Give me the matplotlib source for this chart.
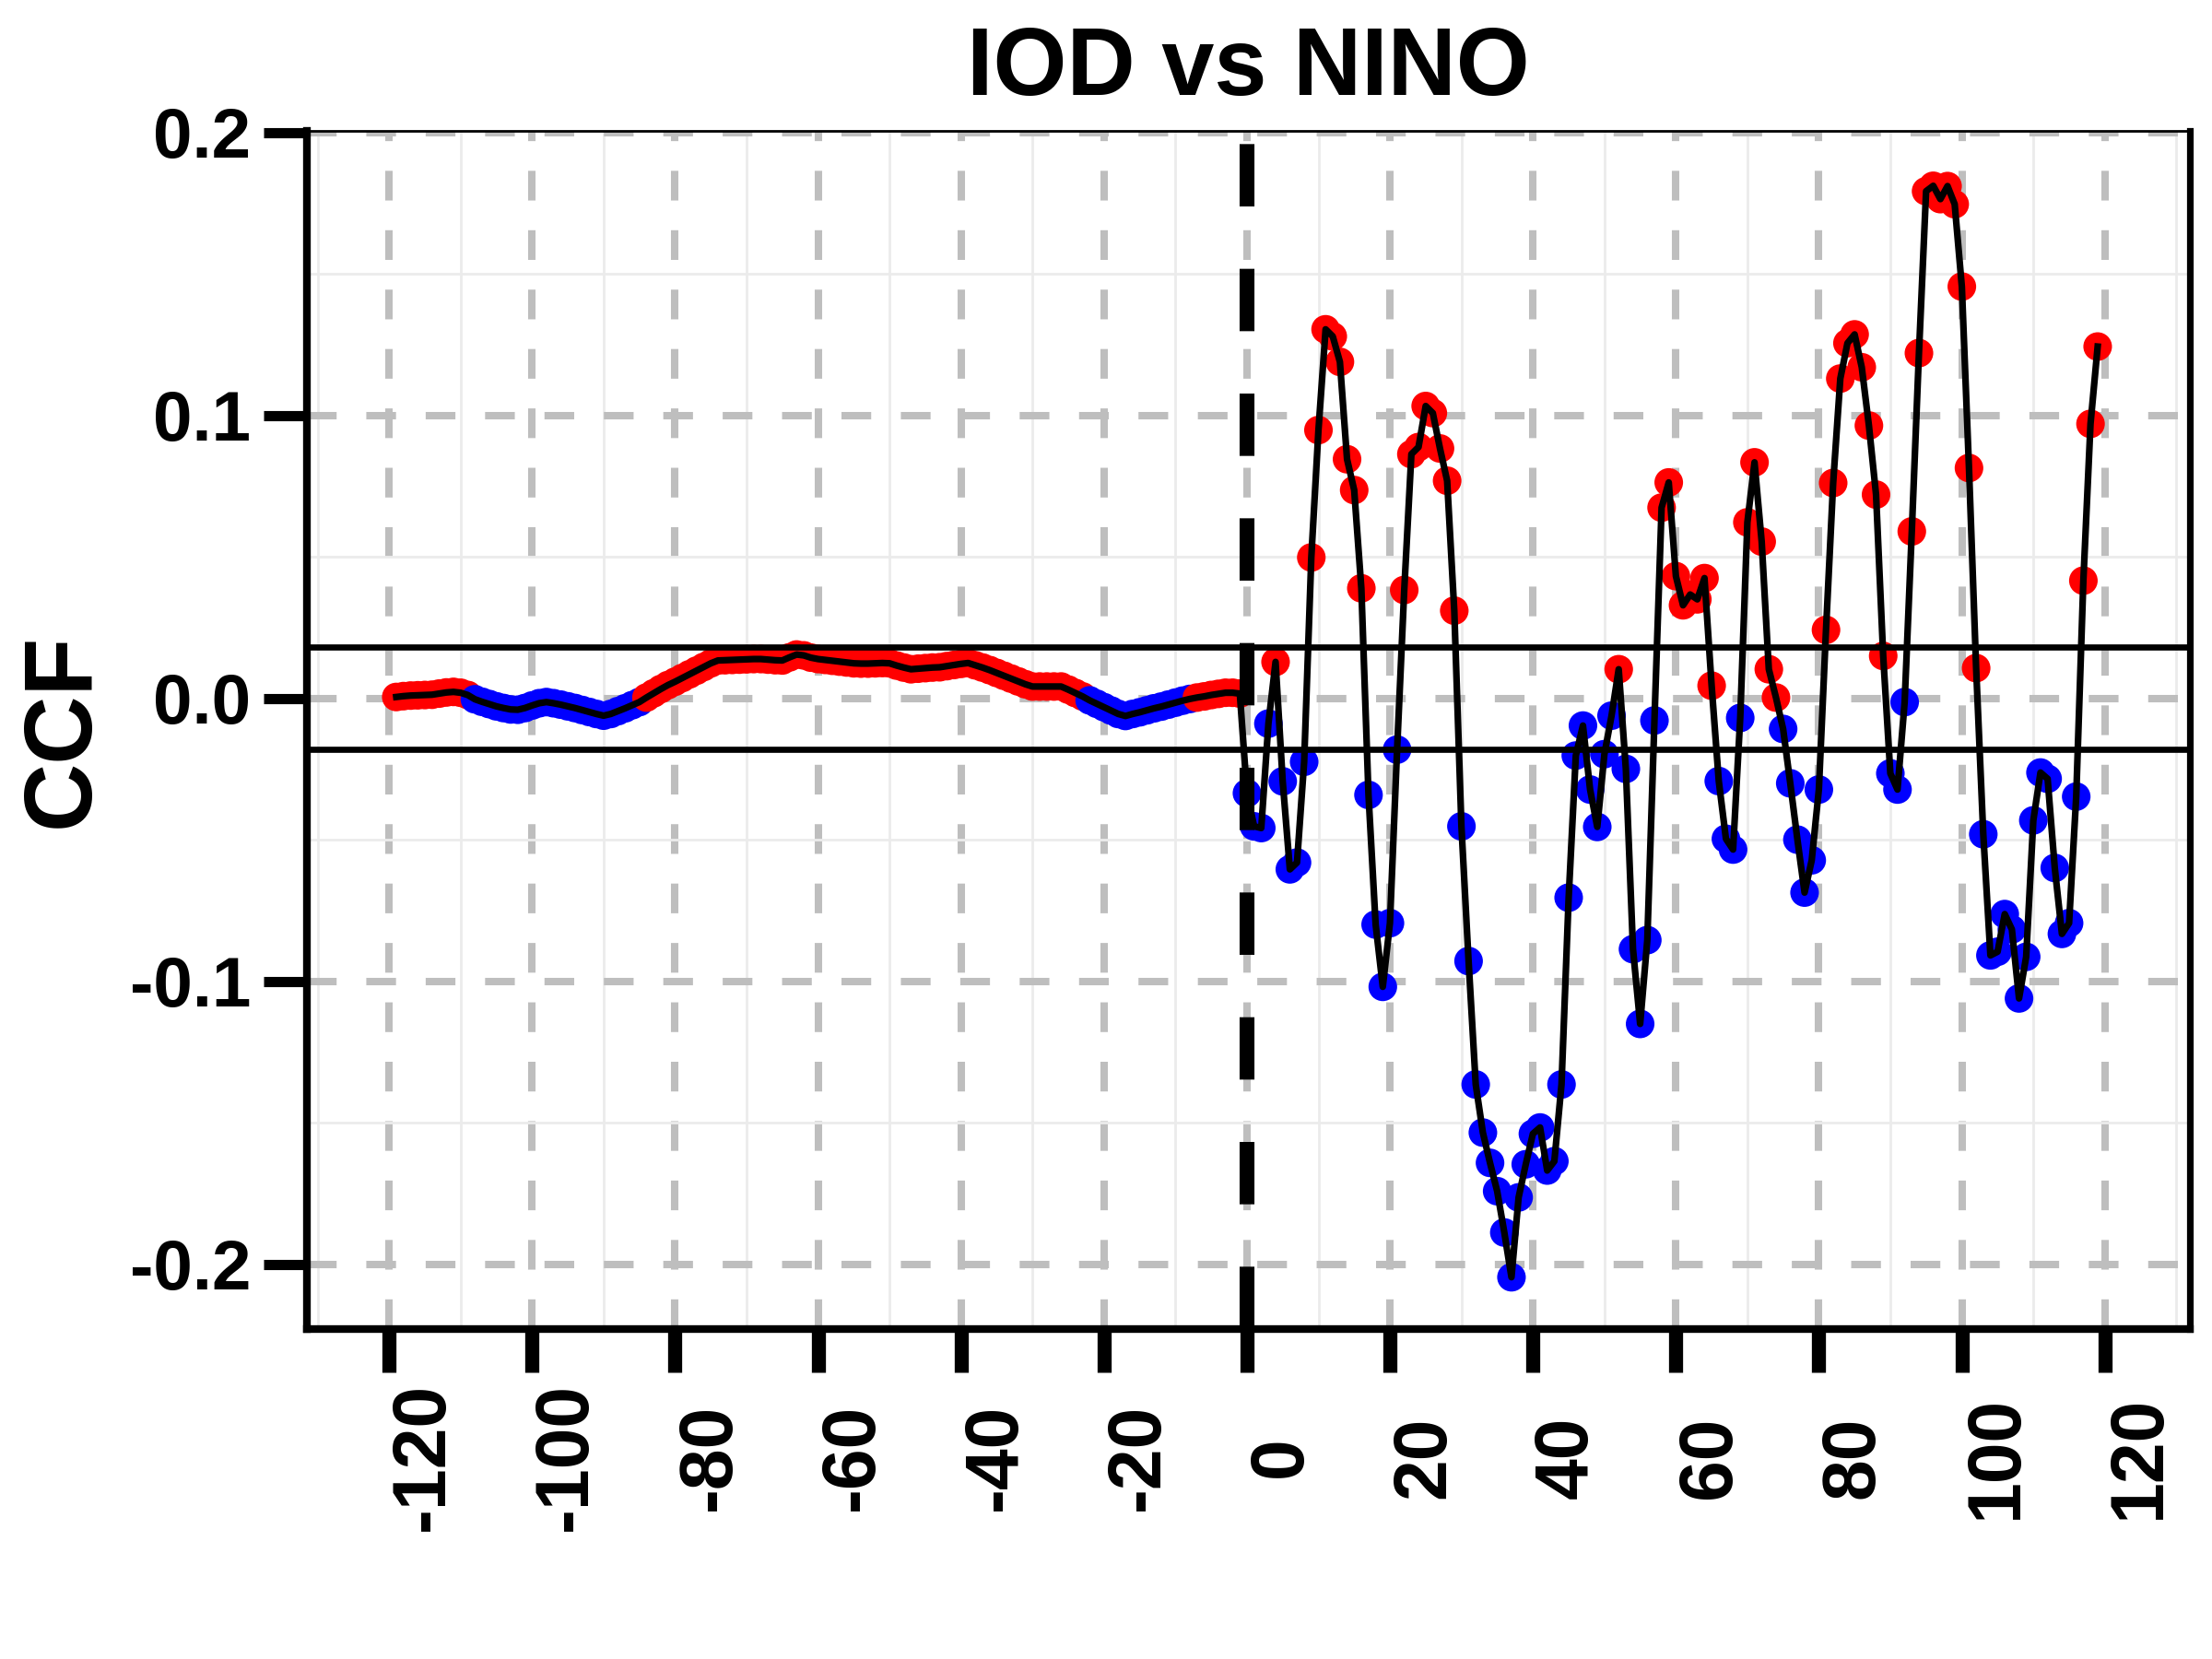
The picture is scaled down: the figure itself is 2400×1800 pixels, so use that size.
import numpy as np
import matplotlib
matplotlib.use("Agg")
import matplotlib.pyplot as plt

plt.rcParams['font.family'] = ['Liberation Sans', 'DejaVu Sans']
plt.rcParams['axes.unicode_minus'] = False

# cross correlation IOD vs NINO, lags -119..-1 and 0..119
neg_lags = list(range(-119, 0))
neg_ccf = [0.0005, 0.0008, 0.0010, 0.0011, 0.0012, 0.0013, 0.0017, 0.0021, 0.0023, 0.0020,
           0.0012, -0.0003, -0.0012, -0.0020, -0.0028, -0.0034, -0.0039, -0.0040, -0.0034, -0.0025,
           -0.0017, -0.0013, -0.0017, -0.0022, -0.0028, -0.0034, -0.0041, -0.0048, -0.0055, -0.0061,
           -0.0055, -0.0045, -0.0035, -0.0024, -0.0013, 0.0003, 0.0018, 0.0033, 0.0047, 0.0059,
           0.0072, 0.0085, 0.0098, 0.0111, 0.0124, 0.0134, 0.0135, 0.0136, 0.0137, 0.0138,
           0.0139, 0.0139, 0.0137, 0.0135, 0.0134, 0.0145, 0.0155, 0.0152, 0.0144, 0.0139,
           0.0136, 0.0133, 0.0130, 0.0127, 0.0124, 0.0123, 0.0123, 0.0124, 0.0125, 0.0124,
           0.0116, 0.0109, 0.0103, 0.0105, 0.0107, 0.0109, 0.0110, 0.0114, 0.0118, 0.0122,
           0.0125, 0.0117, 0.0109, 0.0100, 0.0090, 0.0080, 0.0070, 0.0060, 0.0050, 0.0042,
           0.0042, 0.0042, 0.0042, 0.0042, 0.0031, 0.0019, 0.0007, -0.0007, -0.0019, -0.0031,
           -0.0043, -0.0055, -0.0062, -0.0055, -0.0049, -0.0042, -0.0035, -0.0029, -0.0022, -0.0015,
           -0.0008, -0.0002, 0.0003, 0.0007, 0.0012, 0.0016, 0.0020, 0.0020, 0.0017]

pos_lags = list(range(0, 120))
pos_ccf = [-0.0335, -0.0452, -0.0458, -0.0089, 0.0129, -0.0293, -0.0604, -0.0580, -0.0224, 0.0498,
           0.0948, 0.1304, 0.1279, 0.1189, 0.0845, 0.0736, 0.0389, -0.0341, -0.0799, -0.1019,
           -0.0794, -0.0181, 0.0383, 0.0863, 0.0888, 0.1033, 0.1008, 0.0883, 0.0769, 0.0310,
           -0.0452, -0.0928, -0.1364, -0.1534, -0.1641, -0.1741, -0.1887, -0.2045, -0.1763, -0.1646,
           -0.1538, -0.1516, -0.1668, -0.1635, -0.1364, -0.0704, -0.0202, -0.0096, -0.0322, -0.0454,
           -0.0197, -0.0061, 0.0103, -0.0249, -0.0886, -0.1150, -0.0854, -0.0078, 0.0674, 0.0763,
           0.0432, 0.0329, 0.0367, 0.0350, 0.0425, 0.0045, -0.0292, -0.0496, -0.0534, -0.0069,
           0.0622, 0.0834, 0.0554, 0.0103, 0.0003, -0.0108, -0.0300, -0.0499, -0.0686, -0.0572,
           -0.0322, 0.0242, 0.0761, 0.1130, 0.1255, 0.1286, 0.1170, 0.0964, 0.0720, 0.0150,
           -0.0265, -0.0322, -0.0013, 0.0590, 0.1220, 0.1792, 0.1811, 0.1764, 0.1810, 0.1746,
           0.1455, 0.0814, 0.0107, -0.0480, -0.0908, -0.0895, -0.0762, -0.0816, -0.1060, -0.0913,
           -0.0431, -0.0262, -0.0284, -0.0599, -0.0832, -0.0794, -0.0347, 0.0416, 0.0970, 0.1243]

conf = 0.018
xticks = [-120, -100, -80, -60, -40, -20, 0, 20, 40, 60, 80, 100, 120]
yticks = [-0.2, -0.1, 0.0, 0.1, 0.2]
ytick_labels = ['-0.2', '-0.1', '0.0', '0.1', '0.2']

lags = np.array(neg_lags + pos_lags)
ccf = np.array(neg_ccf + pos_ccf)
cols = np.where(ccf >= 0, '#FF0000', '#0000FF')

fig = plt.figure(figsize=(12, 9), dpi=200)
ax = fig.add_axes([0.13875, 0.1989, 0.85125, 0.7222])

ax.set_xlim(-131.5, 131.9)
ax.set_ylim(-0.2228, 0.2005)

# grid: minor solid light, major dashed grey
ax.set_xticks(np.arange(-130, 131, 20), minor=True)
ax.set_yticks([-0.15, -0.05, 0.05, 0.15], minor=True)
ax.grid(which='minor', color='#EBEBEB', lw=1.0, zorder=0)
ax.grid(which='major', color='#BEBEBE', lw=2.9, ls=(0, (4, 4)), zorder=0.5)
ax.set_axisbelow(True)

ax.scatter(lags, ccf, c=cols, s=125, linewidths=0, zorder=3)
ax.plot(lags, ccf, color='black', lw=2.6, zorder=4)

ax.axhline(conf, color='black', lw=2.4, zorder=5)
ax.axhline(-conf, color='black', lw=2.4, zorder=5)
ax.plot([0, 0], [-0.2228, 0.2005], color='black', lw=5.8, ls=(0, (4.2, 4.2)),
        solid_capstyle='butt', dash_capstyle='butt', zorder=6)

ax.set_xticks(xticks)
ax.set_xticklabels([str(v) for v in xticks], rotation=90, fontsize=29, fontweight='bold')
for lab in ax.get_xticklabels():
    lab.set_ha('left')
    lab.set_va('center')
ax.set_yticks(yticks)
ax.set_yticklabels(ytick_labels, fontsize=27.5, fontweight='bold')

ax.tick_params(axis='x', which='major', length=17, width=5.5, pad=33, direction='out')
ax.tick_params(axis='y', which='major', length=17, width=4, pad=5, direction='out')
ax.tick_params(which='minor', length=0)

for side in ['left', 'bottom']:
    ax.spines[side].set_linewidth(3.0)
ax.spines['right'].set_linewidth(2.6)
ax.spines['top'].set_linewidth(1.0)
for sp in ax.spines.values():
    sp.set_zorder(10)

fig.text(0.5644, 0.943, 'IOD vs NINO', ha='center', va='baseline', fontsize=37, fontweight='bold')
fig.text(0.029, 0.56, 'CCF', ha='center', va='center', rotation=90, fontsize=37, fontweight='bold')

fig.savefig('out.png', dpi=200)
